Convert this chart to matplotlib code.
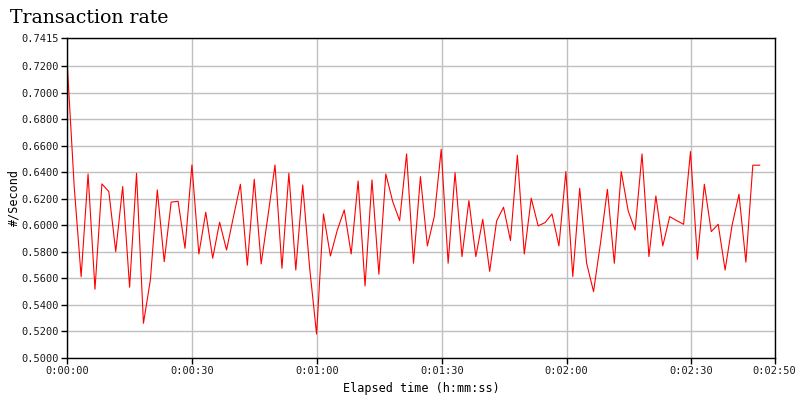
import matplotlib
matplotlib.use("Agg")
import matplotlib.pyplot as plt
import numpy as np
from matplotlib.ticker import FixedLocator, FuncFormatter

# sample interval (seconds) between consecutive data points
interval_s = 1.664

rate = [
    0.7215, 0.6294, 0.5614, 0.6389, 0.5519, 0.6314, 0.6256, 0.5803, 0.6294, 0.5534,
    0.6394, 0.5262, 0.5589, 0.6268, 0.5727, 0.6176, 0.6183, 0.5828, 0.6457, 0.5785,
    0.6100, 0.5753, 0.6025, 0.5815, 0.6067, 0.6311, 0.5700, 0.6349, 0.5710, 0.6080,
    0.6457, 0.5677, 0.6394, 0.5664, 0.6306, 0.5680, 0.5181, 0.6087, 0.5770, 0.5966,
    0.6117, 0.5785, 0.6336, 0.5544, 0.6344, 0.5632, 0.6389, 0.6180, 0.6037, 0.6540,
    0.5715, 0.6369, 0.5846, 0.6067, 0.6575, 0.5715, 0.6399, 0.5765, 0.6188, 0.5765,
    0.6047, 0.5654, 0.6034, 0.6138, 0.5886, 0.6530, 0.5785, 0.6206, 0.5997, 0.6022,
    0.6087, 0.5846, 0.6407, 0.5614, 0.6281, 0.5715, 0.5501, 0.5866, 0.6273, 0.5715,
    0.6407, 0.6110, 0.5966, 0.6540, 0.5765, 0.6223, 0.5846, 0.6067, 0.6037, 0.6009,
    0.6558, 0.5745, 0.6311, 0.5954, 0.6009, 0.5664, 0.6000, 0.6236, 0.5723, 0.6455,
    0.6455,
]
elapsed = np.arange(len(rate)) * interval_s

y_ticks = [0.5000, 0.5200, 0.5400, 0.5600, 0.5800, 0.6000, 0.6200, 0.6400,
           0.6600, 0.6800, 0.7000, 0.7200, 0.7415]
x_ticks = [0, 30, 60, 90, 120, 150, 170]
x_tick_labels = ["0:00:00", "0:00:30", "0:01:00", "0:01:30", "0:02:00", "0:02:30", "0:02:50"]

fig = plt.figure(figsize=(8, 4), dpi=100)
ax = fig.add_axes([0.0841, 0.105, 0.8843, 0.80])

ax.plot(elapsed, rate, color="#ff0000", linewidth=0.8)

ax.set_xlim(0, 170)
ax.set_ylim(0.5, 0.7415)
ax.xaxis.set_major_locator(FixedLocator(x_ticks))
ax.set_xticklabels(x_tick_labels)
ax.yaxis.set_major_locator(FixedLocator(y_ticks))
ax.yaxis.set_major_formatter(FuncFormatter(lambda v, p: f"{v:.4f}"))

ax.grid(True, color="#c0c0c0", linewidth=1.0)
ax.set_axisbelow(True)
for s in ax.spines.values():
    s.set_color("black")
    s.set_linewidth(1.0)

tick_font = "DejaVu Sans Mono"
ax.tick_params(axis="both", direction="out", length=4, width=1, color="black",
               labelsize=7.5, pad=2)
for lab in ax.get_xticklabels() + ax.get_yticklabels():
    lab.set_fontfamily(tick_font)
    lab.set_color("#1a1a1a")

ax.set_xlabel("Elapsed time (h:mm:ss)", fontsize=8.5, family=tick_font, labelpad=4)
ax.set_ylabel("#/Second", fontsize=8.5, family=tick_font, labelpad=1)

fig.text(0.0125, 0.955, "Transaction rate", fontsize=13.6, family="DejaVu Serif",
         ha="left", va="center")

fig.savefig("out.png", dpi=100, facecolor="white")
